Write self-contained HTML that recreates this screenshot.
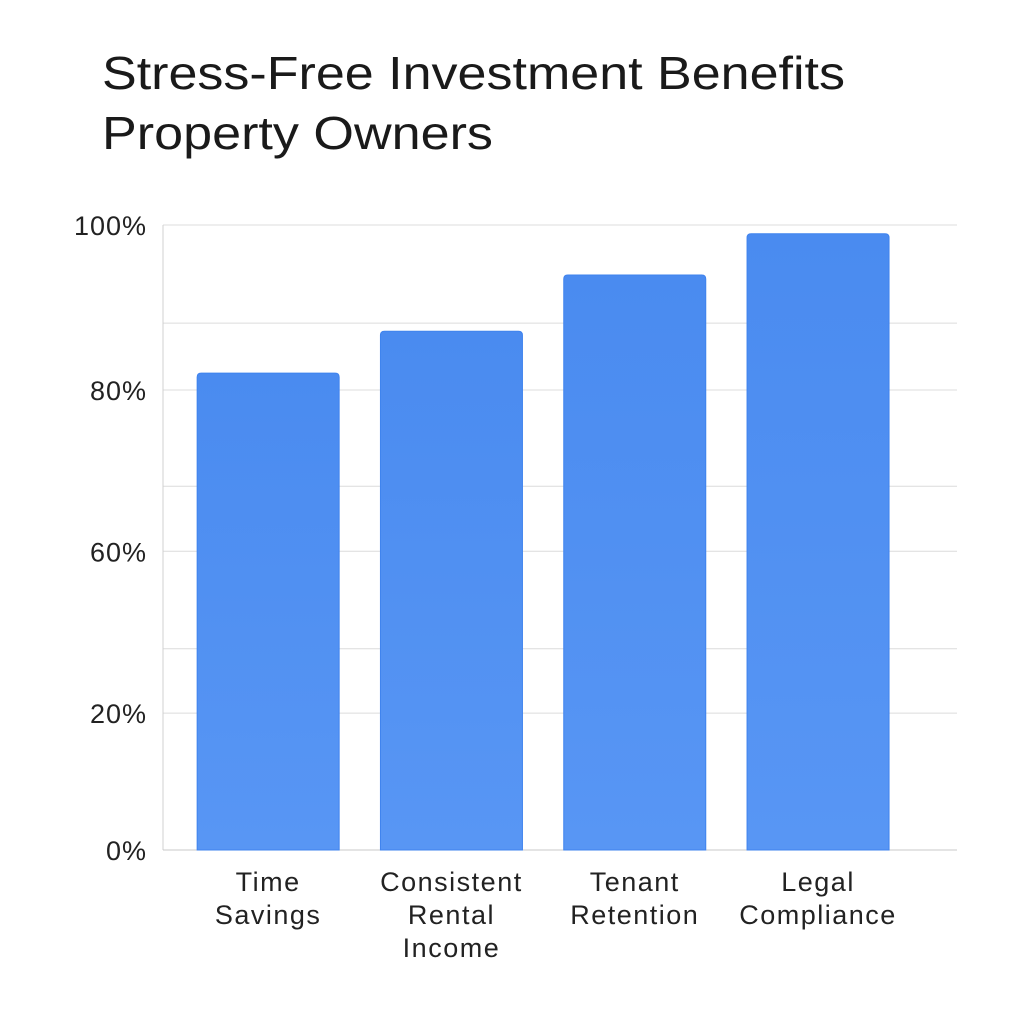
<!DOCTYPE html>
<html><head><meta charset="utf-8"><style>
body{margin:0;background:#fff;width:1024px;height:1024px;overflow:hidden;font-family:"Liberation Sans",sans-serif}
</style></head><body>
<svg width="1024" height="1024">
<text x="102" y="89" font-size="46" fill="#1a1a1a" textLength="743" lengthAdjust="spacingAndGlyphs">Stress-Free Investment Benefits</text>
<text x="102" y="149" font-size="46" fill="#1a1a1a" textLength="391" lengthAdjust="spacingAndGlyphs">Property Owners</text>
<g id="grid"></g><g id="bars"></g><g id="labels"></g>
</svg>
<script>
const categories=[["Time","Savings"],["Consistent","Rental","Income"],["Tenant","Retention"],["Legal","Compliance"]];
const values=[76.3,83,92,98.6];
const tickValues=[0,21.9,47.8,73.6,100];
const tickLabels=["0%","20%","60%","80%","100%"];
const gridValues=[0,21.9,32.2,47.8,58.2,73.6,84.3,100];
const NS="http://www.w3.org/2000/svg";
const x0=163,x1=957,yb=850,yt=225;
const y=v=>yb-(v/100)*(yb-yt);
const step=183.3,bandStart=176.5,bw=142;
const xc=i=>bandStart+step*i+step/2;
function mk(t,a,p){const e=document.createElementNS(NS,t);for(const k in a)e.setAttribute(k,a[k]);p.appendChild(e);return e;}
const grid=document.getElementById('grid'),bars=document.getElementById('bars'),labels=document.getElementById('labels');
const defs=mk('defs',{},document.querySelector('svg'));
const lg=mk('linearGradient',{id:'bg',x1:0,y1:0,x2:0,y2:1},defs);
mk('stop',{offset:0,'stop-color':'#4a8bf0'},lg);mk('stop',{offset:1,'stop-color':'#5896f4'},lg);
gridValues.forEach(v=>{
 const l=mk('line',{x1:x0,x2:x1,y1:y(v),y2:y(v),stroke:'#dcdcdc','stroke-width':1},grid);
 
 
});
const ax=mk('line',{x1:x0,x2:x0,y1:yt,y2:yb,stroke:'#d0d0d0','stroke-width':1},grid);


const bx=mk('line',{x1:x0,x2:x1,y1:yb,y2:yb,stroke:'#c8c8c8','stroke-width':1},grid);


tickValues.forEach((v,i)=>{
 const t=mk('text',{x:147,y:y(v)+10,'text-anchor':'end','font-size':27,'letter-spacing':1,fill:'#222'},labels);
 t.textContent=tickLabels[i];
 
 
});
values.forEach((v,i)=>{
 const r=mk('path',{d:`M${xc(i)-bw/2},${yb}V${y(v)+4}q0,-4 4,-4H${xc(i)+bw/2-4}q4,0 4,4V${yb}Z`,fill:'url(#bg)',stroke:'#3f83ee','stroke-width':1},bars);
 
 
 categories[i].forEach((s,j)=>{
  const t=mk('text',{x:xc(i),y:891+j*33,'text-anchor':'middle','font-size':27,'letter-spacing':1.5,fill:'#222'},labels);
  t.textContent=s;
  
  
 });
});
</script>
</body></html>
